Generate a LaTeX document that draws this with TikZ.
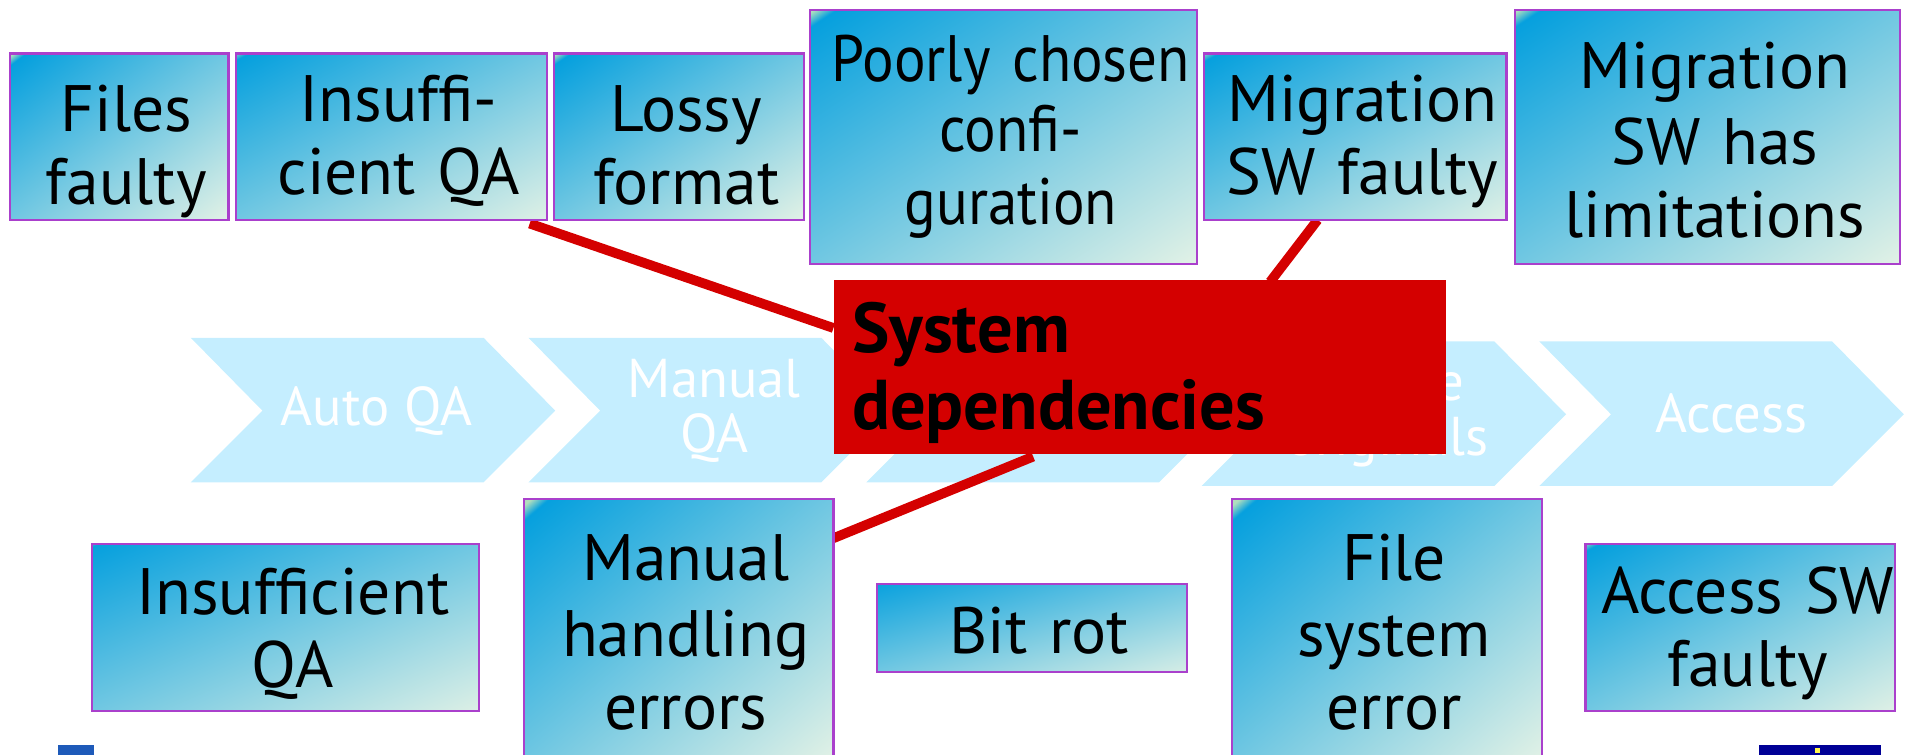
\documentclass[tikz,border=0pt]{standalone}
\usepackage{fontspec}
\setmainfont{PT Sans}
\newfontfamily\tightfont[FakeStretch=0.9]{PT Sans}
\usetikzlibrary{backgrounds}
\definecolor{boxgreen}{RGB}{176,222,190}
\definecolor{boxblue}{RGB}{6,160,222}
\definecolor{boxpale}{RGB}{230,243,230}
\definecolor{boxedge}{RGB}{170,64,204}
\definecolor{stepblue}{RGB}{197,238,255}
\definecolor{depred}{RGB}{212,0,0}
\definecolor{logoblue}{RGB}{30,90,185}
\definecolor{logonavy}{RGB}{0,0,150}
\pgfdeclarehorizontalshading{boxshade}{100bp}{color(0bp)=(boxgreen); color(15.5bp)=(boxgreen);
  color(17.5bp)=(boxblue); color(86bp)=(boxpale); color(100bp)=(boxpale)}
\def \boxfont {\fontsize{27}{30}\selectfont}
\def \lineset #1#2{\baselineskip=#1\relax\rule{0pt}{#2}}

\begin{document}
\begin{tikzpicture}[x=0.5pt,y=-0.5pt,
    gradbox/.style n args={3}{draw=boxedge,line width=0.9pt,shading=boxshade,
      text width=#1,minimum height=#2,shading angle=#3,inner sep=0pt,outer sep=0pt,
      font=\boxfont,execute at begin node={\leftskip=6pt plus 1fil
        \rightskip=0pt plus 1fil \parfillskip=0pt \relax},
      execute at end node={\rule[-5.4pt]{0pt}{5.4pt}}},
    steplabel/.style={text=white,align=center,font=\fontsize{22.5}{22.5}\selectfont},
    stepshape/.style={fill=stepblue},
    depline/.style={draw=depred,line width=4pt}]

    \useasboundingbox (0,0) rectangle (1568,621);
    \clip (0,0) rectangle (1568,621);

    % top row
    \node[gradbox={90pt}{68.5pt}{-52.7}] (files) at (98,112.5) {\lineset{31.4pt}{31.4pt}Files\\faulty};
    \node[gradbox={128pt}{68.5pt}{-61.9}] (insuffi) at (322,112.5) {\lineset{28pt}{22.9pt}Insuffi-\\cient QA};
    \node[gradbox={103pt}{68.5pt}{-56.4}] (lossy) at (559,112.5) {\lineset{31.4pt}{31.4pt}Lossy\\format};
    \node[gradbox={159pt}{104.5pt}{-56.7}] (poorly) at (826,112.5) {\tightfont\lineset{28.75pt}{19.4pt}\mbox{Poorly chosen}\\confi-\\guration};
    \node[gradbox={124.5pt}{68.5pt}{-61.2}] (migfaulty) at (1115.5,112.5) {\lineset{28pt}{22.9pt}Migration\\SW faulty};
    \node[gradbox={158.5pt}{104.5pt}{-56.6}] (mighas) at (1405.5,112.5) {\lineset{31.5pt}{26.9pt}Migration\\SW has\\limitations};

    % bottom row
    \node[gradbox={159pt}{68.5pt}{-66.7}] (insuffb) at (235,516.5) {\lineset{29pt}{24.9pt}Insufficient\\QA};
    \node[gradbox={127.5pt}{109pt}{-49.5}] (manual) at (558.5,520) {\lineset{31.5pt}{24.4pt}Manual\\handling\\errors};
    \node[gradbox={127.5pt}{36pt}{-74.2}] (bitrot) at (849.5,517) {\lineset{30pt}{26.4pt}Bit rot};
    \node[gradbox={127.5pt}{109pt}{-49.5}] (filesys) at (1141.5,520) {\lineset{31.5pt}{24.4pt}File\\system\\error};
    \node[gradbox={127.5pt}{68.5pt}{-61.8}] (accesssw) at (1432.5,516.5) {\lineset{28pt}{23.9pt}Access SW\\faulty};

    \node[fill=depred,minimum width=252pt,minimum height=71.5pt,inner xsep=7.5pt,inner ysep=0pt,anchor=north west,
      text width=237pt,font=\fontsize{29}{31.5}\selectfont\bfseries,
      execute at end node={\rule[-8pt]{0pt}{8pt}}] (sysdep) at (686,230)
      {\lineset{31.5pt}{28pt}System\\dependencies};

    % logo stubs
    \node[fill=logoblue,minimum width=15pt,minimum height=5pt,inner sep=0pt,anchor=north west] (logol) at (47,613) {};
    \node[fill=logonavy,minimum width=50.5pt,minimum height=5pt,inner sep=0pt,anchor=north west] (logor) at (1447,613) {};
    \node[fill=yellow!70,minimum size=2pt,inner sep=0pt] (logostar) at (1496,618) {};

    \begin{pgfonlayer}{background}
    \foreach \cname/\cx/\cy in {auto/157/278,man/435/278,mid/713/278,del/989/281,acc/1267/281} {
      \path[stepshape] (\cx,\cy) -- ++(241,0) -- ++(59,60) -- ++(-59,59) -- ++(-241,0)
        -- ++(59,-59) -- cycle;
    }
    \node[steplabel] (autolabel) at (310,338) {Auto QA};
    \node[steplabel] (manlabel) at (588,338) {Manual\\QA};
    \node[steplabel] (dellabel) at (1142,341) {Delete\\originals};
    \node[steplabel] (acclabel) at (1425,340) {Access};

    \draw[depline] ([xshift=-7pt,yshift=-1.5pt]insuffi.south east) -- ([yshift=-20pt]sysdep.north west);
    \draw[depline] ([xshift=-15.5pt]migfaulty.south) -- ([xshift=53.5pt,yshift=-1pt]sysdep.north);
    \draw[depline] ([xshift=-44pt,yshift=-1pt]sysdep.south) -- ([yshift=38.5pt]manual.east);
    \end{pgfonlayer}
\end{tikzpicture}
\end{document}
